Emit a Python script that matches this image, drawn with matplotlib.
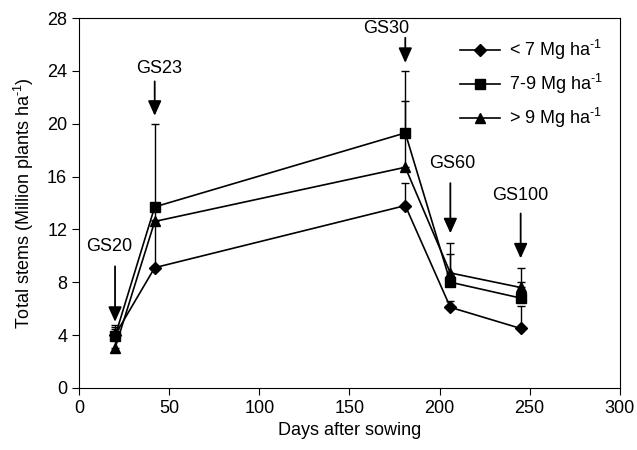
import matplotlib
matplotlib.use('Agg')
import matplotlib.pyplot as plt

plt.rcParams['font.family'] = ['Liberation Sans', 'DejaVu Sans']
plt.rcParams['mathtext.fontset'] = 'custom'
plt.rcParams['mathtext.rm'] = 'Liberation Sans'
plt.rcParams['mathtext.it'] = 'Liberation Sans:italic'
plt.rcParams['mathtext.bf'] = 'Liberation Sans:bold'

# days after sowing
days = [20, 42, 181, 206, 245]

# total stems (million plants / ha) per yield group
low = [4.0, 9.1, 13.8, 6.1, 4.5]
mid = [3.9, 13.7, 19.3, 8.0, 6.8]
high = [3.0, 12.6, 16.7, 8.7, 7.6]

# upper error bars
low_err = [0.47, 3.6, 1.7, 0.5, 1.7]
mid_err = [0.87, 6.3, 4.7, 3.0, 1.2]
high_err = [1.6, 1.0, 5.0, 1.4, 1.5]

labels = ['< 7 Mg ha$^{\\text{-}1}$', '7-9 Mg ha$^{\\text{-}1}$', '> 9 Mg ha$^{\\text{-}1}$']

# growth stage arrows: label, x, arrow start, arrow tip, text x, text y
stages = ['GS20', 'GS23', 'GS30', 'GS60', 'GS100']
stage_x = [20, 42, 181, 206, 245]
arrow_from = [9.2, 23.2, 26.5, 15.5, 13.2]
arrow_to = [5.0, 20.6, 24.6, 11.7, 9.8]
text_x = [16.6, 44.3, 170.6, 207, 245]
text_y = [10.7, 24.2, 27.2, 17.0, 14.6]

fig = plt.figure(figsize=(6.37, 4.5), dpi=100)
ax = fig.add_axes([0.124, 0.138, 0.849, 0.822])

series = [(low, low_err, 'D', 6), (mid, mid_err, 's', 7), (high, high_err, '^', 7.5)]
for (vals, err, mk, ms), lab in zip(series, labels):
    ax.errorbar(days, vals, yerr=[[0] * len(err), err], color='black', marker=mk,
                markersize=ms, linewidth=1.2, elinewidth=1.0, capsize=3,
                capthick=1.0, label=lab)

for s, x, y0, y1, tx, ty in zip(stages, stage_x, arrow_from, arrow_to, text_x, text_y):
    ax.annotate('', xy=(x, y1), xytext=(x, y0),
                arrowprops=dict(arrowstyle='-|>,head_length=0.6,head_width=0.27',
                                mutation_scale=15, color='black', lw=1.3,
                                shrinkA=0, shrinkB=0))
    ax.text(tx, ty, s, ha='center', va='center', fontsize=13)

ax.set_xlim(0, 300)
ax.set_ylim(0, 28)
ax.set_xticks(range(0, 301, 50))
ax.set_yticks(range(0, 29, 4))
ax.tick_params(direction='out', length=5, labelsize=13)
ax.set_xlabel('Days after sowing', fontsize=13)
ax.set_ylabel('Total stems (Million plants ha$^{\\text{-}1}$)', fontsize=13, labelpad=8)

handles, labs = ax.get_legend_handles_labels()
handles = [h[0] for h in handles]
ax.legend(handles, labs, loc='upper left', bbox_to_anchor=(0.675, 0.99),
          frameon=False, fontsize=13, handlelength=2.2, labelspacing=0.55,
          handletextpad=0.5)

fig.savefig('out.png', dpi=100)
